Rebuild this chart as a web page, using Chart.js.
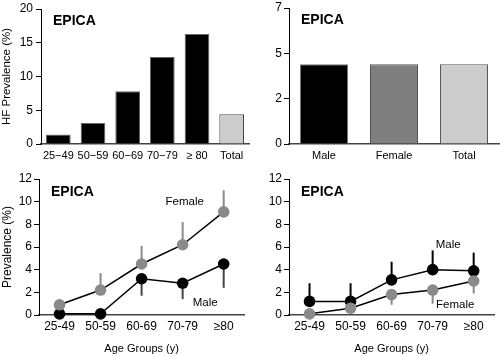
<!DOCTYPE html>
<html><head><meta charset="utf-8">
<script src="https://cdn.jsdelivr.net/npm/chart.js@4"></script>
<style>
body{margin:0;background:#fff;width:500px;height:356px;position:relative;overflow:hidden}
canvas{position:absolute}
</style></head><body>
<canvas id="c1" width="250" height="170" style="left:0;top:0"></canvas>
<canvas id="c2" width="250" height="170" style="left:250px;top:0"></canvas>
<canvas id="c3" width="250" height="186" style="left:0;top:170px"></canvas>
<canvas id="c4" width="250" height="186" style="left:250px;top:170px"></canvas>
<script>
// ---- data ----
const ageCats = ['25\u221249', '50\u221259', '60\u221269', '70\u221279', '\u2265 80', 'Total'];
const hfPrev = [1.4, 3.1, 7.8, 12.9, 16.3, 4.4];
const sexCats = ['Male', 'Female', 'Total'];
const sexPrev = [4.1, 4.1, 4.1];
const sexTickValues = [0, 7 / 3, 14 / 3, 7];
const sexTickLabels = ['0', '2', '5', '7'];
const ageGroups = ['25-49', '50-59', '60-69', '70-79', '\u226580'];
// left bottom panel
const femaleA = [0.9, 2.2, 4.5, 6.2, 9.1];
const femaleAErr = [null, 3.7, 6.1, 8.2, 11.0];
const maleA = [0.1, 0.1, 3.2, 2.8, 4.5];
const maleAErr = [null, null, 1.7, 1.4, 2.4];
// right bottom panel
const maleB = [1.2, 1.2, 3.1, 4.0, 3.9];
const maleBErr = [2.8, 2.8, 4.7, 5.7, 5.5];
const femaleB = [0.1, 0.6, 1.8, 2.2, 3.0];
const femaleBErr = [null, null, 0.9, 1.0, 1.9];

const FONT = "'Liberation Sans', Arial, Helvetica, sans-serif";
const GRAY = '#8a8a8a';

const errPlugin = {
  id: 'errbars',
  beforeDatasetsDraw(chart, args, opts) {
    const ctx = chart.ctx, y = chart.scales.y;
    (opts.bars || []).forEach(b => {
      const meta = chart.getDatasetMeta(b.ds);
      const base = chart.data.datasets[b.ds].data;
      ctx.save();
      ctx.strokeStyle = b.color; ctx.lineWidth = 2;
      b.values.forEach((v, i) => {
        if (v == null) return;
        const xp = meta.data[i].x;
        ctx.beginPath();
        ctx.moveTo(xp, y.getPixelForValue(base[i]));
        ctx.lineTo(xp, y.getPixelForValue(v));
        ctx.stroke();
      });
      ctx.restore();
    });
  }
};
const textPlugin = {
  id: 'texts',
  afterDatasetsDraw(chart, args, opts) {
    const ctx = chart.ctx, a = chart.chartArea;
    (opts.items || []).forEach(t => {
      ctx.save();
      ctx.font = t.font; ctx.fillStyle = '#000';
      ctx.textAlign = t.align || 'left'; ctx.textBaseline = 'middle';
      let x, yy;
      if (t.dx != null) { x = a.left + t.dx; yy = a.top + t.dy; }
      else { x = chart.scales.x.getPixelForValue(t.xv); yy = chart.scales.y.getPixelForValue(t.yv); }
      ctx.fillText(t.text, x, yy);
      ctx.restore();
    });
  }
};
Chart.register(errPlugin, textPlugin);

function yAxis(width, opts) {
  return Object.assign({
    min: 0,
    afterFit(s) { s.width = width; },
    grid: { display: true, drawOnChartArea: false, drawTicks: true, tickLength: 5, color: '#000', lineWidth: 1 },
    border: { display: true, color: '#000', width: 1 },
    ticks: { color: '#000', padding: 2, font: { family: FONT, size: 12, lineHeight: 1 } }
  }, opts);
}
function xAxis(height, opts) {
  return Object.assign({
    afterFit(s) { s.height = height; },
    grid: { display: false, drawTicks: false },
    border: { display: true, color: '#444', width: 1.5 },
    ticks: { color: '#000', padding: 4, maxRotation: 0, autoSkip: false, font: { family: FONT, size: 12 } }
  }, opts);
}
const epica = (dx, dy) => ({ text: 'EPICA', font: 'bold 14px ' + FONT, dx: dx, dy: dy });
const base = {
  responsive: false, animation: false, devicePixelRatio: 1,
  plugins: { legend: { display: false }, tooltip: { enabled: false } }
};

// Panel 1
new Chart(document.getElementById('c1'), {
  type: 'bar',
  data: { labels: ageCats, datasets: [{
    data: hfPrev,
    backgroundColor: ['#000', '#000', '#000', '#000', '#000', '#cccccc'],
    borderColor: ['#666', '#666', '#666', '#666', '#666', '#444'],
    borderWidth: 1, categoryPercentage: 0.75, barPercentage: 0.95
  }] },
  options: Object.assign({}, base, {
    layout: { padding: { top: 6, right: 1, left: 0, bottom: 0 } },
    scales: {
      x: xAxis(26, { ticks: { color: '#000', padding: 5, maxRotation: 0, autoSkip: false, font: { family: FONT, size: 11 } } }),
      y: yAxis(41, { max: 20, ticks: { color: '#000', padding: 3, stepSize: 5, font: { family: FONT, size: 12, lineHeight: 1 } },
        title: { display: true, text: 'HF Prevalence (%)', color: '#000', padding: 0, font: { family: FONT, size: 11.5 } } })
    },
    plugins: Object.assign({}, base.plugins, { texts: { items: [epica(12, 12)] } })
  })
});

// Panel 2
new Chart(document.getElementById('c2'), {
  type: 'bar',
  data: { labels: sexCats, datasets: [{
    data: sexPrev,
    backgroundColor: ['#000', '#7f7f7f', '#cccccc'],
    borderColor: ['#777', '#555', '#555'],
    borderWidth: 1, categoryPercentage: 0.7, barPercentage: 0.98
  }] },
  options: Object.assign({}, base, {
    layout: { padding: { top: 6, right: 1, left: 0, bottom: 0 } },
    scales: {
      x: xAxis(26, { ticks: { color: '#000', padding: 5, font: { family: FONT, size: 11 } } }),
      y: yAxis(39, { max: 7,
        afterBuildTicks(s) { s.ticks = sexTickValues.map(v => ({ value: v })); },
        ticks: { color: '#000', padding: 2, font: { family: FONT, size: 12, lineHeight: 1 },
          callback(v) { return sexTickLabels[sexTickValues.indexOf(v)]; } } })
    },
    plugins: Object.assign({}, base.plugins, { texts: { items: [epica(12, 12)] } })
  })
});

function lineChart(id, yWidth, yTitle, dsTop, dsBottom, errs, labels) {
  const scales = {
    x: xAxis(41, { offset: true,
      title: { display: true, text: 'Age Groups (y)', color: '#000', padding: 0, font: { family: FONT, size: 11 } } }),
    y: yAxis(yWidth, { max: 12, ticks: { color: '#000', padding: 2, stepSize: 2, font: { family: FONT, size: 12, lineHeight: 1 } } })
  };
  if (yTitle) scales.y.title = { display: true, text: yTitle, color: '#000', padding: 0, font: { family: FONT, size: 12 } };
  new Chart(document.getElementById(id), {
    type: 'line',
    data: { labels: ageGroups, datasets: [dsTop, dsBottom] },
    options: Object.assign({}, base, {
      layout: { padding: { top: 9, right: 1, left: 0, bottom: 0 } },
      scales: scales,
      plugins: Object.assign({}, base.plugins, {
        errbars: { bars: errs },
        texts: { items: [epica(12, 13)].concat(labels) }
      })
    })
  });
}
const ds = (data, color) => ({
  data: data, borderColor: '#000', borderWidth: 1.5, pointRadius: 5.8,
  pointBackgroundColor: color, pointBorderColor: color, pointBorderWidth: 0, tension: 0, clip: false
});
const lbl = (text, xv, yv) => ({ text: text, font: '11.5px ' + FONT, align: 'center', xv: xv, yv: yv });

lineChart('c3', 39, 'Prevalence (%)', ds(femaleA, GRAY), ds(maleA, '#000'),
  [{ ds: 0, values: femaleAErr, color: GRAY }, { ds: 1, values: maleAErr, color: '#444' }],
  [lbl('Female', 3.05, 10.0), lbl('Male', 3.55, 1.1)]);
lineChart('c4', 39, null, ds(femaleB, GRAY), ds(maleB, '#000'),
  [{ ds: 0, values: femaleBErr, color: GRAY }, { ds: 1, values: maleBErr, color: '#000' }],
  [lbl('Male', 3.38, 6.2), lbl('Female', 3.55, 0.9)]);
</script>
</body></html>
